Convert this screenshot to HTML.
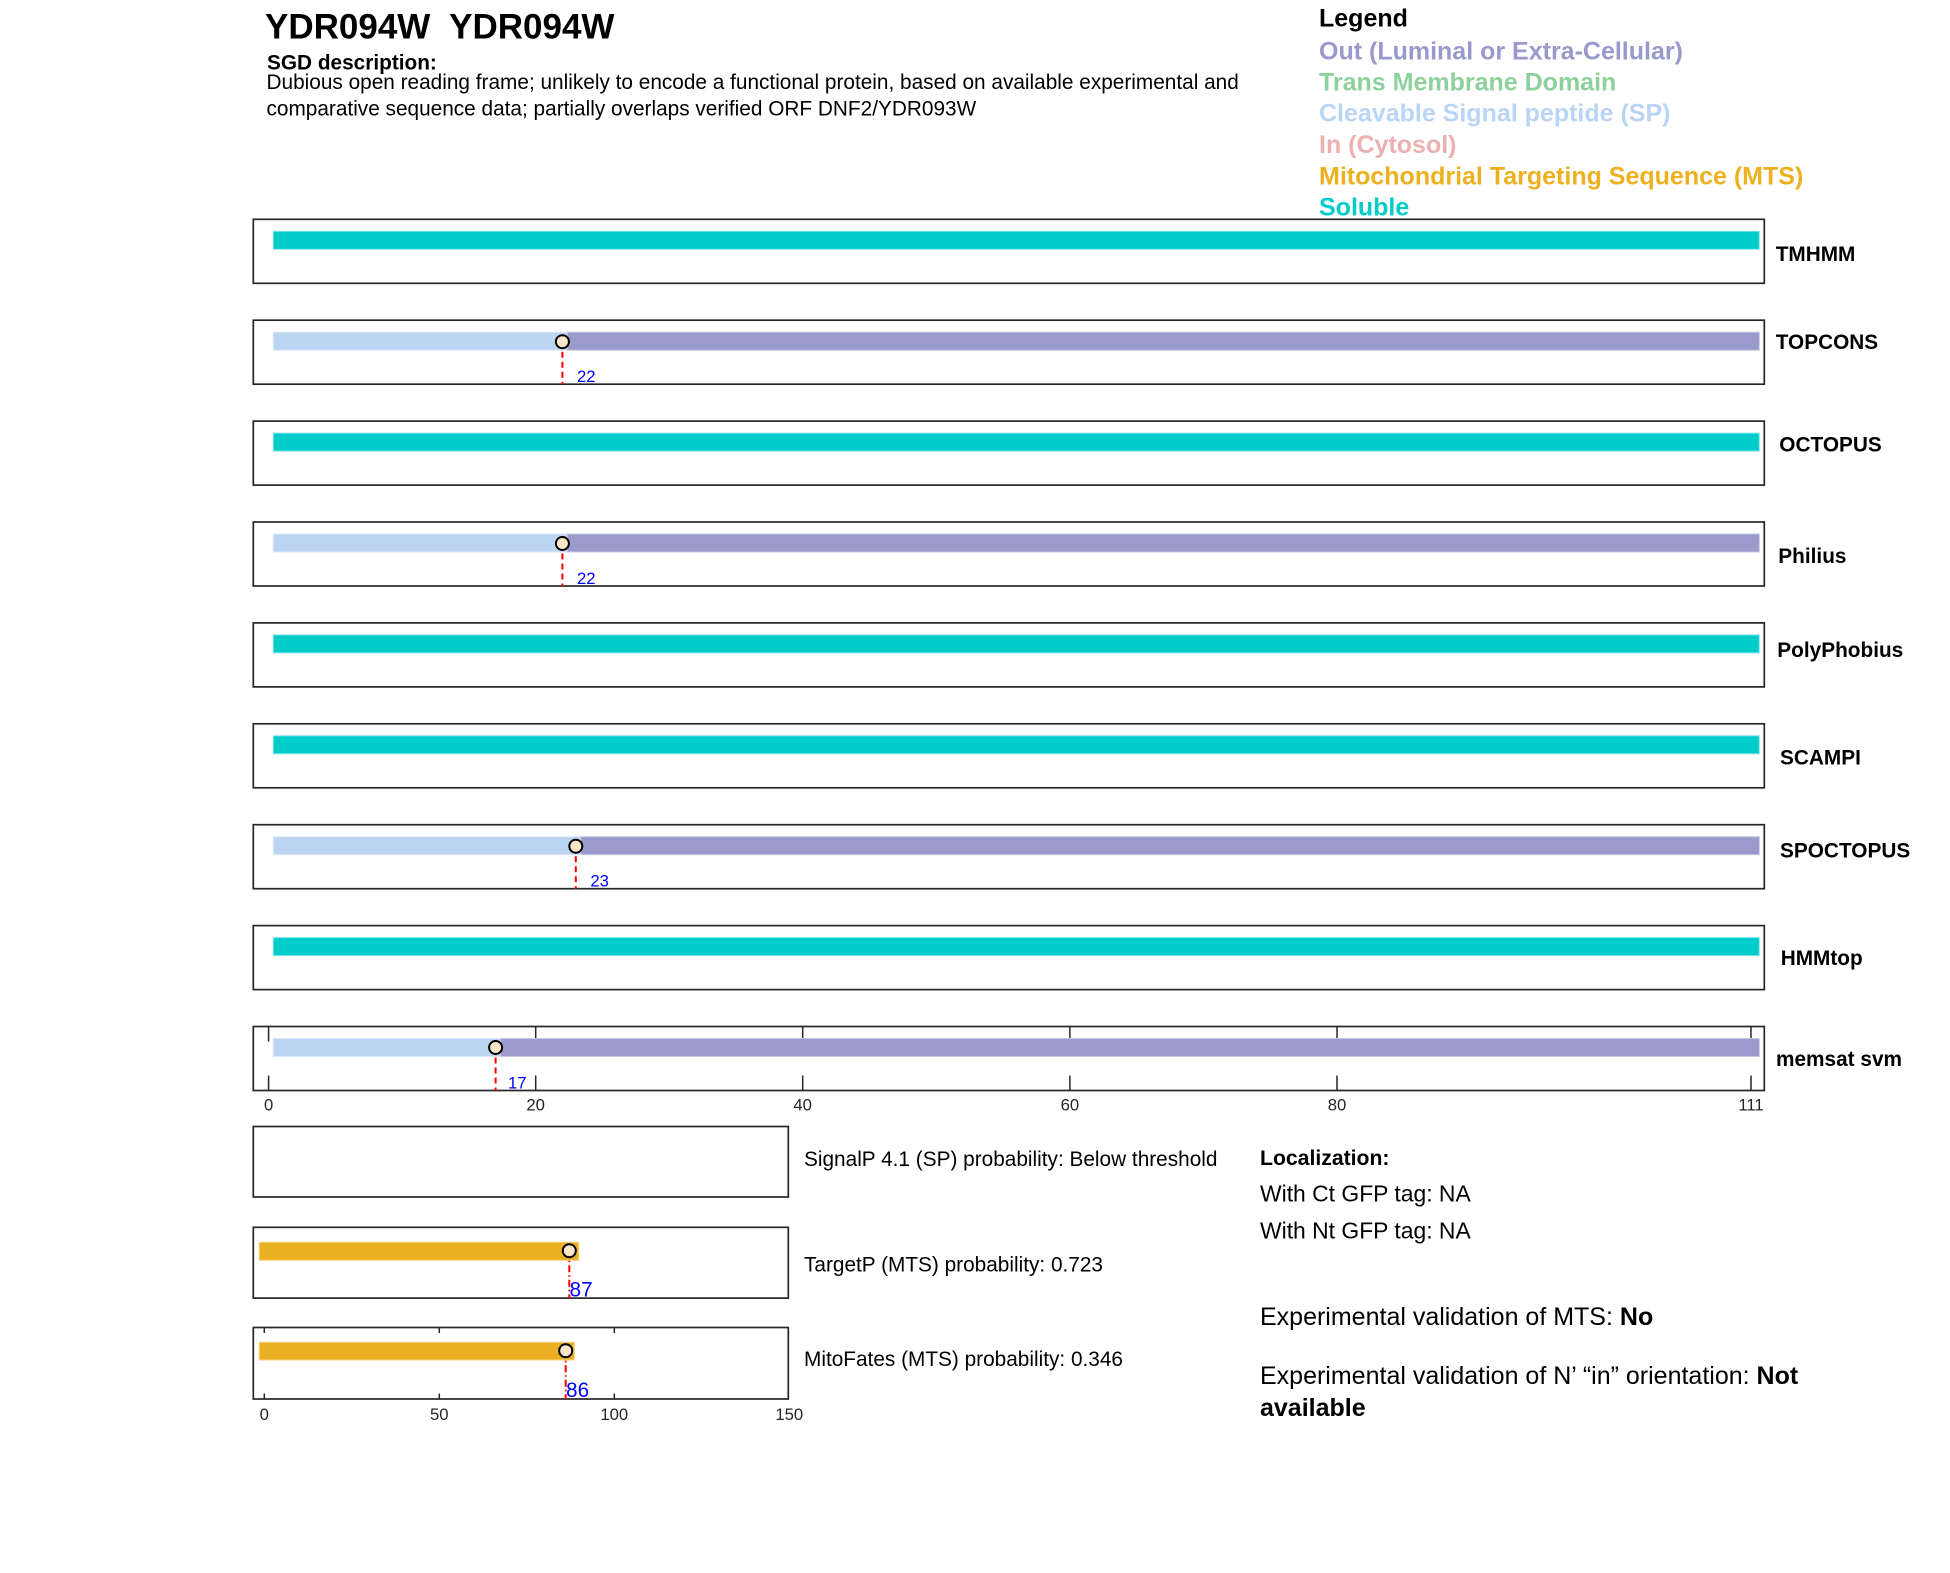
<!DOCTYPE html>
<html>
<head>
<meta charset="utf-8">
<style>
html,body{margin:0;padding:0;background:#fff;}
svg{display:block;}
text{font-family:"Liberation Sans",Arial,sans-serif;}
</style>
</head>
<body>
<svg width="1950" height="1573" viewBox="0 0 1950 1573" xmlns="http://www.w3.org/2000/svg">
<rect x="0" y="0" width="1950" height="1573" fill="#fff"/>

<!-- Header -->
<text x="265" y="38.5" font-size="35" font-weight="bold" fill="#000">YDR094W&#160; YDR094W</text>
<text x="267" y="69.5" font-size="20.8" font-weight="bold" fill="#000">SGD description:</text>
<text x="266.5" y="89" font-size="20.8" fill="#000">Dubious open reading frame; unlikely to encode a functional protein, based on available experimental and</text>
<text x="266.5" y="115.5" font-size="20.8" fill="#000">comparative sequence data; partially overlaps verified ORF DNF2/YDR093W</text>

<!-- Legend -->
<g font-size="25" font-weight="bold">
<text x="1319" y="26.7" fill="#000">Legend</text>
<text x="1319" y="59.3" fill="#9999CC">Out (Luminal or Extra-Cellular)</text>
<text x="1319" y="90.7" fill="#8DD19C">Trans Membrane Domain</text>
<text x="1319" y="121.3" fill="#BAD4F5">Cleavable Signal peptide (SP)</text>
<text x="1319" y="153" fill="#EDB0B0">In (Cytosol)</text>
<text x="1319" y="184.3" fill="#EDB120">Mitochondrial Targeting Sequence (MTS)</text>
<text x="1319" y="215.3" fill="#00CCCC">Soluble</text>
</g>

<!-- Track 1 TMHMM -->
<rect x="253.3" y="219.3" width="1511" height="64" fill="#fff" stroke="#262626" stroke-width="1.7"/>
<rect x="273.3" y="231.3" width="1486" height="18" fill="#00CCCC" stroke="#80E6E6" stroke-width="1"/>
<text x="1775.7" y="261" font-size="20.8" font-weight="bold" fill="#000">TMHMM</text>

<!-- Track 2 TOPCONS -->
<rect x="253.3" y="320.2" width="1511" height="64" fill="#fff" stroke="#262626" stroke-width="1.7"/>
<rect x="273.3" y="332.2" width="294" height="18" fill="#BAD4F2" stroke="#DCE9F8" stroke-width="1"/>
<rect x="567.3" y="332.2" width="1192" height="18" fill="#9A9ACB" stroke="#C6C6E2" stroke-width="1"/>
<line x1="562.4" y1="341.7" x2="562.4" y2="384.2" stroke="#FF0000" stroke-width="2" stroke-dasharray="6,4"/>
<circle cx="562.4" cy="341.7" r="6.5" fill="#FCE6C9" stroke="#000" stroke-width="2"/>
<text x="577" y="382" font-size="16.7" fill="#0000FF">22</text>
<text x="1775.7" y="349" font-size="20.8" font-weight="bold" fill="#000">TOPCONS</text>

<!-- Track 3 OCTOPUS -->
<rect x="253.3" y="421.1" width="1511" height="64" fill="#fff" stroke="#262626" stroke-width="1.7"/>
<rect x="273.3" y="433.1" width="1486" height="18" fill="#00CCCC" stroke="#80E6E6" stroke-width="1"/>
<text x="1779.3" y="451.7" font-size="20.8" font-weight="bold" fill="#000">OCTOPUS</text>

<!-- Track 4 Philius -->
<rect x="253.3" y="522" width="1511" height="64" fill="#fff" stroke="#262626" stroke-width="1.7"/>
<rect x="273.3" y="534" width="294" height="18" fill="#BAD4F2" stroke="#DCE9F8" stroke-width="1"/>
<rect x="567.3" y="534" width="1192" height="18" fill="#9A9ACB" stroke="#C6C6E2" stroke-width="1"/>
<line x1="562.4" y1="543.5" x2="562.4" y2="586" stroke="#FF0000" stroke-width="2" stroke-dasharray="6,4"/>
<circle cx="562.4" cy="543.5" r="6.5" fill="#FCE6C9" stroke="#000" stroke-width="2"/>
<text x="577" y="584" font-size="16.7" fill="#0000FF">22</text>
<text x="1778.3" y="563" font-size="20.8" font-weight="bold" fill="#000">Philius</text>

<!-- Track 5 PolyPhobius -->
<rect x="253.3" y="622.9" width="1511" height="64" fill="#fff" stroke="#262626" stroke-width="1.7"/>
<rect x="273.3" y="634.9" width="1486" height="18" fill="#00CCCC" stroke="#80E6E6" stroke-width="1"/>
<text x="1777.3" y="656.8" font-size="20.8" font-weight="bold" fill="#000">PolyPhobius</text>

<!-- Track 6 SCAMPI -->
<rect x="253.3" y="723.8" width="1511" height="64" fill="#fff" stroke="#262626" stroke-width="1.7"/>
<rect x="273.3" y="735.8" width="1486" height="18" fill="#00CCCC" stroke="#80E6E6" stroke-width="1"/>
<text x="1780" y="764.5" font-size="20.8" font-weight="bold" fill="#000">SCAMPI</text>

<!-- Track 7 SPOCTOPUS -->
<rect x="253.3" y="824.7" width="1511" height="64" fill="#fff" stroke="#262626" stroke-width="1.7"/>
<rect x="273.3" y="836.7" width="307.5" height="18" fill="#BAD4F2" stroke="#DCE9F8" stroke-width="1"/>
<rect x="580.8" y="836.7" width="1178.5" height="18" fill="#9A9ACB" stroke="#C6C6E2" stroke-width="1"/>
<line x1="575.8" y1="846.2" x2="575.8" y2="888.7" stroke="#FF0000" stroke-width="2" stroke-dasharray="6,4"/>
<circle cx="575.8" cy="846.2" r="6.5" fill="#FCE6C9" stroke="#000" stroke-width="2"/>
<text x="590.4" y="886.5" font-size="16.7" fill="#0000FF">23</text>
<text x="1780" y="857.5" font-size="20.8" font-weight="bold" fill="#000">SPOCTOPUS</text>

<!-- Track 8 HMMtop -->
<rect x="253.3" y="925.6" width="1511" height="64" fill="#fff" stroke="#262626" stroke-width="1.7"/>
<rect x="273.3" y="937.6" width="1486" height="18" fill="#00CCCC" stroke="#80E6E6" stroke-width="1"/>
<text x="1780.7" y="965" font-size="20.8" font-weight="bold" fill="#000">HMMtop</text>

<!-- Track 9 memsat svm -->
<rect x="253.3" y="1026.5" width="1511" height="64" fill="#fff" stroke="#262626" stroke-width="1.7"/>
<g stroke="#262626" stroke-width="1.5">
<line x1="268.6" y1="1026.5" x2="268.6" y2="1041.5"/><line x1="268.6" y1="1090.5" x2="268.6" y2="1075.5"/>
<line x1="535.7" y1="1026.5" x2="535.7" y2="1041.5"/><line x1="535.7" y1="1090.5" x2="535.7" y2="1075.5"/>
<line x1="802.7" y1="1026.5" x2="802.7" y2="1041.5"/><line x1="802.7" y1="1090.5" x2="802.7" y2="1075.5"/>
<line x1="1069.9" y1="1026.5" x2="1069.9" y2="1041.5"/><line x1="1069.9" y1="1090.5" x2="1069.9" y2="1075.5"/>
<line x1="1337" y1="1026.5" x2="1337" y2="1041.5"/><line x1="1337" y1="1090.5" x2="1337" y2="1075.5"/>
<line x1="1751" y1="1026.5" x2="1751" y2="1041.5"/><line x1="1751" y1="1090.5" x2="1751" y2="1075.5"/>
</g>
<rect x="273.3" y="1038.5" width="227.3" height="18" fill="#BAD4F2" stroke="#DCE9F8" stroke-width="1"/>
<rect x="500.6" y="1038.5" width="1258.7" height="18" fill="#9A9ACB" stroke="#C6C6E2" stroke-width="1"/>
<line x1="495.6" y1="1047.5" x2="495.6" y2="1090.5" stroke="#FF0000" stroke-width="2" stroke-dasharray="6,4"/>
<circle cx="495.6" cy="1047.5" r="6.5" fill="#FCE6C9" stroke="#000" stroke-width="2"/>
<text x="508" y="1088.5" font-size="16.7" fill="#0000FF">17</text>
<text x="1776" y="1066" font-size="20.8" font-weight="bold" fill="#000">memsat svm</text>
<g font-size="16.7" fill="#262626" text-anchor="middle">
<text x="268.6" y="1110.5">0</text>
<text x="535.7" y="1110.5">20</text>
<text x="802.7" y="1110.5">40</text>
<text x="1069.9" y="1110.5">60</text>
<text x="1337" y="1110.5">80</text>
<text x="1751" y="1110.5">111</text>
</g>

<!-- Lower plots -->
<rect x="253.3" y="1126.5" width="535" height="70.5" fill="#fff" stroke="#262626" stroke-width="1.7"/>

<rect x="253.3" y="1227.3" width="535" height="70.8" fill="#fff" stroke="#262626" stroke-width="1.7"/>
<rect x="259.3" y="1242.3" width="319.4" height="18" fill="#EBB022" stroke="#F5D27E" stroke-width="1"/>
<line x1="569.3" y1="1250.7" x2="569.3" y2="1298.1" stroke="#FF0000" stroke-width="2" stroke-dasharray="7,3,1.5,3"/>
<circle cx="569.3" cy="1250.7" r="6.5" fill="#FCE6C9" stroke="#000" stroke-width="2"/>
<text x="569.5" y="1296.5" font-size="20.8" fill="#0000FF">87</text>

<rect x="253.3" y="1327.5" width="535" height="71.5" fill="#fff" stroke="#262626" stroke-width="1.7"/>
<g stroke="#262626" stroke-width="1.5">
<line x1="264.3" y1="1327.5" x2="264.3" y2="1333"/><line x1="264.3" y1="1399" x2="264.3" y2="1393.5"/>
<line x1="439.3" y1="1327.5" x2="439.3" y2="1333"/><line x1="439.3" y1="1399" x2="439.3" y2="1393.5"/>
<line x1="614.3" y1="1327.5" x2="614.3" y2="1333"/><line x1="614.3" y1="1399" x2="614.3" y2="1393.5"/>
</g>
<rect x="259.3" y="1342.3" width="315" height="17.7" fill="#EBB022" stroke="#F5D27E" stroke-width="1"/>
<line x1="565.7" y1="1350.7" x2="565.7" y2="1399" stroke="#FF0000" stroke-width="2" stroke-dasharray="7,3,1.5,3"/>
<circle cx="565.7" cy="1350.7" r="6.5" fill="#FCE6C9" stroke="#000" stroke-width="2"/>
<text x="566" y="1397" font-size="20.8" fill="#0000FF">86</text>
<g font-size="16.7" fill="#262626" text-anchor="middle">
<text x="264.3" y="1420">0</text>
<text x="439.3" y="1420">50</text>
<text x="614.3" y="1420">100</text>
<text x="789.3" y="1420">150</text>
</g>

<!-- Middle text -->
<g font-size="20.8" fill="#000">
<text x="804" y="1166">SignalP 4.1 (SP) probability: Below threshold</text>
<text x="804" y="1271.7">TargetP (MTS) probability: 0.723</text>
<text x="804" y="1366">MitoFates (MTS) probability: 0.346</text>
</g>

<!-- Right text -->
<text x="1260" y="1165" font-size="21.2" font-weight="bold" fill="#000">Localization:</text>
<text x="1260" y="1201.7" font-size="22.9" fill="#000">With Ct GFP tag: NA</text>
<text x="1260" y="1238.3" font-size="22.9" fill="#000">With Nt GFP tag: NA</text>
<text x="1260" y="1325" font-size="25" fill="#000">Experimental validation of MTS: <tspan font-weight="bold">No</tspan></text>
<text x="1260" y="1384" font-size="25" fill="#000">Experimental validation of N’ “in” orientation: <tspan font-weight="bold">Not</tspan></text>
<text x="1260" y="1416" font-size="25" font-weight="bold" fill="#000">available</text>
</svg>
</body>
</html>
